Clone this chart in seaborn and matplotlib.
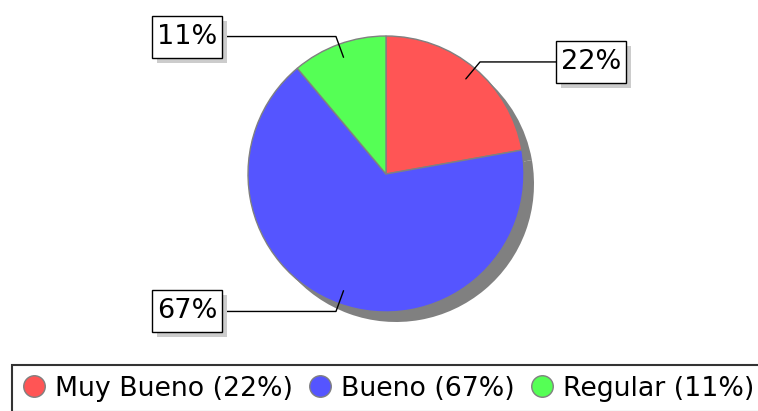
import numpy as np
import matplotlib
matplotlib.use("Agg")
import matplotlib.pyplot as plt
from matplotlib.lines import Line2D
from matplotlib.patches import Rectangle
import seaborn as sns

categories = ["Muy Bueno", "Bueno", "Regular"]
values = [2, 6, 1]
colors = ["#ff5555", "#5555ff", "#55ff55"]

sns.set_theme(style="white")
plt.rcParams["font.family"] = ["DejaVu Sans"]
plt.rcParams["text.color"] = "black"

W, H, R = 758, 411, 138.0
cx, cy = 386, 174
BW, BH = 70, 42   # caja de etiqueta en px
fig = plt.figure(figsize=(W / 100, H / 100), dpi=100)
ax = fig.add_axes([0, 0, 1, 1])
ax.axis("off")

total = sum(values)
pct = [round(100 * v / total) for v in values]

# sombra del pastel
ax.pie(values, startangle=90, counterclock=False, radius=1,
       center=(10 / R, -10 / R), colors=["#808080"] * len(values),
       wedgeprops={"linewidth": 0})
wedges, _ = ax.pie(values, startangle=90, counterclock=False, radius=1,
                   colors=colors, wedgeprops={"edgecolor": "#808080", "linewidth": 1})
ax.set_xlim(-cx / R, (W - cx) / R)
ax.set_ylim(-(H - cy) / R, cy / R)
ax.set_aspect("equal")

for w, p in zip(wedges, pct):
    mid = np.deg2rad((w.theta1 + w.theta2) / 2)
    x0, y0 = 0.9 * np.cos(mid), 0.9 * np.sin(mid)
    x1, y1 = 1.06 * np.cos(mid), 1.06 * np.sin(mid)
    side = 1 if x1 > 0 else -1
    xe = 1.232 if side > 0 else -1.188   # borde de la caja
    xc = xe + side * BW / 2 / R          # centro de la caja
    ax.plot([x0, x1, xe], [y0, y1, y1], color="black", lw=1, clip_on=False)
    px, py = ax.transData.transform((xc, y1))
    fig.patches.append(Rectangle((px - BW / 2 + 5, py - BH / 2 - 5), BW, BH, transform=None,
                                 fc="#cccccc", ec="none", zorder=4))
    fig.patches.append(Rectangle((px - BW / 2, py - BH / 2), BW, BH, transform=None,
                                 fc="white", ec="black", lw=1, zorder=5))
    fig.text(px / W, py / H, f"{p}%", ha="center", va="center", fontsize=19.5,
             color="black", zorder=6)

handles = [Line2D([], [], marker="o", linestyle="", markersize=15.5,
                  markerfacecolor=c, markeredgecolor="#808080", markeredgewidth=1)
           for c in colors]
labels = [f"{c} ({p}%)" for c, p in zip(categories, pct)]
leg = fig.legend(handles, labels, loc="upper left", bbox_to_anchor=(12 / W, 1 - 365 / H),
                 ncol=3, fontsize=19.3, frameon=True, fancybox=False, borderaxespad=0,
                 borderpad=0.4, handlelength=0.85, handletextpad=0.35, columnspacing=0.6)
leg.get_frame().set_edgecolor("black")
leg.get_frame().set_linewidth(1.5)
for t in leg.get_texts():
    t.set_color("black")

fig.savefig("out.png", dpi=100)
